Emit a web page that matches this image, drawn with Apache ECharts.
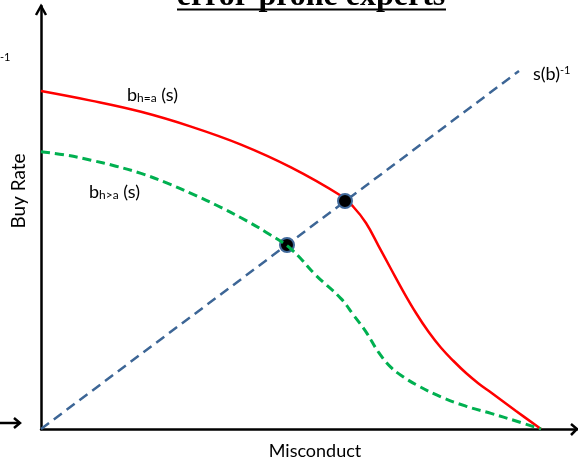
<!DOCTYPE html>
<html>
<head>
<meta charset="utf-8">
<script src="https://cdn.jsdelivr.net/npm/echarts@6/dist/echarts.min.js"></script>
<style>
  html, body { margin: 0; padding: 0; background: #fff; }
  #chart { width: 578px; height: 464px; }
</style>
</head>
<body>
<div id="chart"></div>
<script>
// misconduct (x) vs buy rate (y), arbitrary units
const redCurve = [
  [0, 84.5], [10, 82.1], [20, 79.3], [30, 75.6], [40, 71.1], [50, 65.4],
  [60, 58.3], [62.5, 55.5], [65, 51.5], [67.5, 45.8], [70, 40], [72.5, 34.3],
  [75, 29], [77.5, 24.3], [80, 20.3], [82.5, 17], [85, 14], [87.5, 11.4],
  [90, 9.1], [95, 4.5], [100, 0]
];
const greenCurve = [
  [0, 69.3], [5, 68.5], [10, 67.2], [15, 65.7], [20, 63.9], [25, 61.6],
  [30, 58.9], [35, 56], [40, 52.8], [45, 49.2], [50, 45], [55, 38.4],
  [60, 32.6], [62.5, 28.5], [65, 24.3], [67.5, 19.2], [70, 15.4], [72.5, 13],
  [75, 11.1], [80, 8], [85, 5.7], [90, 3.9], [95, 2], [100, 0]
];
const sLine = [[0, 0], [95.6, 89.5]];
const crossings = [[60.8, 57], [49.2, 46]];

const chart = echarts.init(document.getElementById('chart'));

const font = 'Lato';

chart.setOption({
  animation: false,
  grid: { left: 41, right: 1, top: 6, bottom: 35 },
  xAxis: {
    type: 'value', min: 0, max: 107.2,
    axisLine: { show: true, onZero: false, lineStyle: { color: '#000', width: 2.5 } },
    axisTick: { show: false }, axisLabel: { show: false }, splitLine: { show: false }
  },
  yAxis: {
    type: 'value', min: 0, max: 105.75,
    axisLine: { show: true, onZero: false, lineStyle: { color: '#000', width: 2.5 } },
    axisTick: { show: false }, axisLabel: { show: false }, splitLine: { show: false }
  },
  series: [
    {
      type: 'line', data: sLine, symbol: 'none', z: 2,
      lineStyle: { color: '#3d6696', width: 2.5, type: [10, 6] }
    },
    {
      type: 'line', data: redCurve, symbol: 'none', smooth: 0.4, z: 3,
      lineStyle: { color: '#ff0000', width: 2.5 }
    },
    {
      type: 'scatter', data: crossings, symbolSize: 14, z: 4,
      itemStyle: { color: '#000', borderColor: '#41699a', borderWidth: 2, opacity: 1 }
    },
    {
      type: 'line', data: greenCurve, symbol: 'none', smooth: 0.4, z: 5,
      lineStyle: { color: '#00b050', width: 3, type: [9, 5] }
    }
  ],
  graphic: [
    // title
    {
      type: 'text', x: 311, y: -3, z: 10,
      style: {
        text: 'error-prone experts',
        font: 'bold 32px "Liberation Serif"', fill: '#000',
        align: 'center', verticalAlign: 'middle'
      }
    },
    {
      type: 'line', shape: { x1: 177, y1: 9.5, x2: 446, y2: 9.5 },
      style: { stroke: '#000', lineWidth: 1.8 }
    },
    // axis arrow heads
    {
      type: 'polyline', shape: { points: [[36, 15], [41, 6], [46, 15]] },
      style: { stroke: '#000', lineWidth: 2.5, fill: null }
    },
    {
      type: 'polyline', shape: { points: [[571, 424], [577, 429], [571, 435]] },
      style: { stroke: '#000', lineWidth: 2.5, fill: null }
    },
    // stray arrow at left edge
    {
      type: 'line', shape: { x1: 0, y1: 423, x2: 19, y2: 423 },
      style: { stroke: '#000', lineWidth: 2.5 }
    },
    {
      type: 'polyline', shape: { points: [[14, 418], [20, 423], [14, 428]] },
      style: { stroke: '#000', lineWidth: 2.5, fill: null }
    },
    {
      type: 'text', x: 0, y: 57,
      style: { text: '-1', font: '11px ' + font, fill: '#000', verticalAlign: 'middle' }
    },
    // axis titles
    {
      type: 'text', x: 315, y: 451,
      style: { text: 'Misconduct', font: '18px ' + font, fill: '#000', align: 'center', verticalAlign: 'middle' }
    },
    {
      type: 'text', x: 19, y: 191, rotation: Math.PI / 2,
      style: { text: 'Buy Rate', font: '19px ' + font, fill: '#000', align: 'center', verticalAlign: 'middle' }
    },
    // curve labels
    {
      type: 'text', x: 127, y: 94,
      style: {
        text: '{b|b}{sub|h=a}{b| (s)}', verticalAlign: 'middle',
        rich: {
          b: { fontSize: 18, fontFamily: font, lineHeight: 20, verticalAlign: 'bottom', fill: '#000' },
          sub: { fontSize: 12, fontFamily: font, lineHeight: 10, verticalAlign: 'bottom', fill: '#000' }
        }
      }
    },
    {
      type: 'text', x: 89, y: 191,
      style: {
        text: '{b|b}{sub|h>a}{b| (s)}', verticalAlign: 'middle',
        rich: {
          b: { fontSize: 18, fontFamily: font, lineHeight: 20, verticalAlign: 'bottom', fill: '#000' },
          sub: { fontSize: 12, fontFamily: font, lineHeight: 10, verticalAlign: 'bottom', fill: '#000' }
        }
      }
    },
    {
      type: 'text', x: 533, y: 75,
      style: {
        text: '{b|s(b)}{sup|-1}', verticalAlign: 'middle',
        rich: {
          b: { fontSize: 18, fontFamily: font, lineHeight: 20, verticalAlign: 'top', fill: '#000' },
          sup: { fontSize: 11, fontFamily: font, lineHeight: 4, verticalAlign: 'top', fill: '#000' }
        }
      }
    }
  ]
});
</script>
</body>
</html>
